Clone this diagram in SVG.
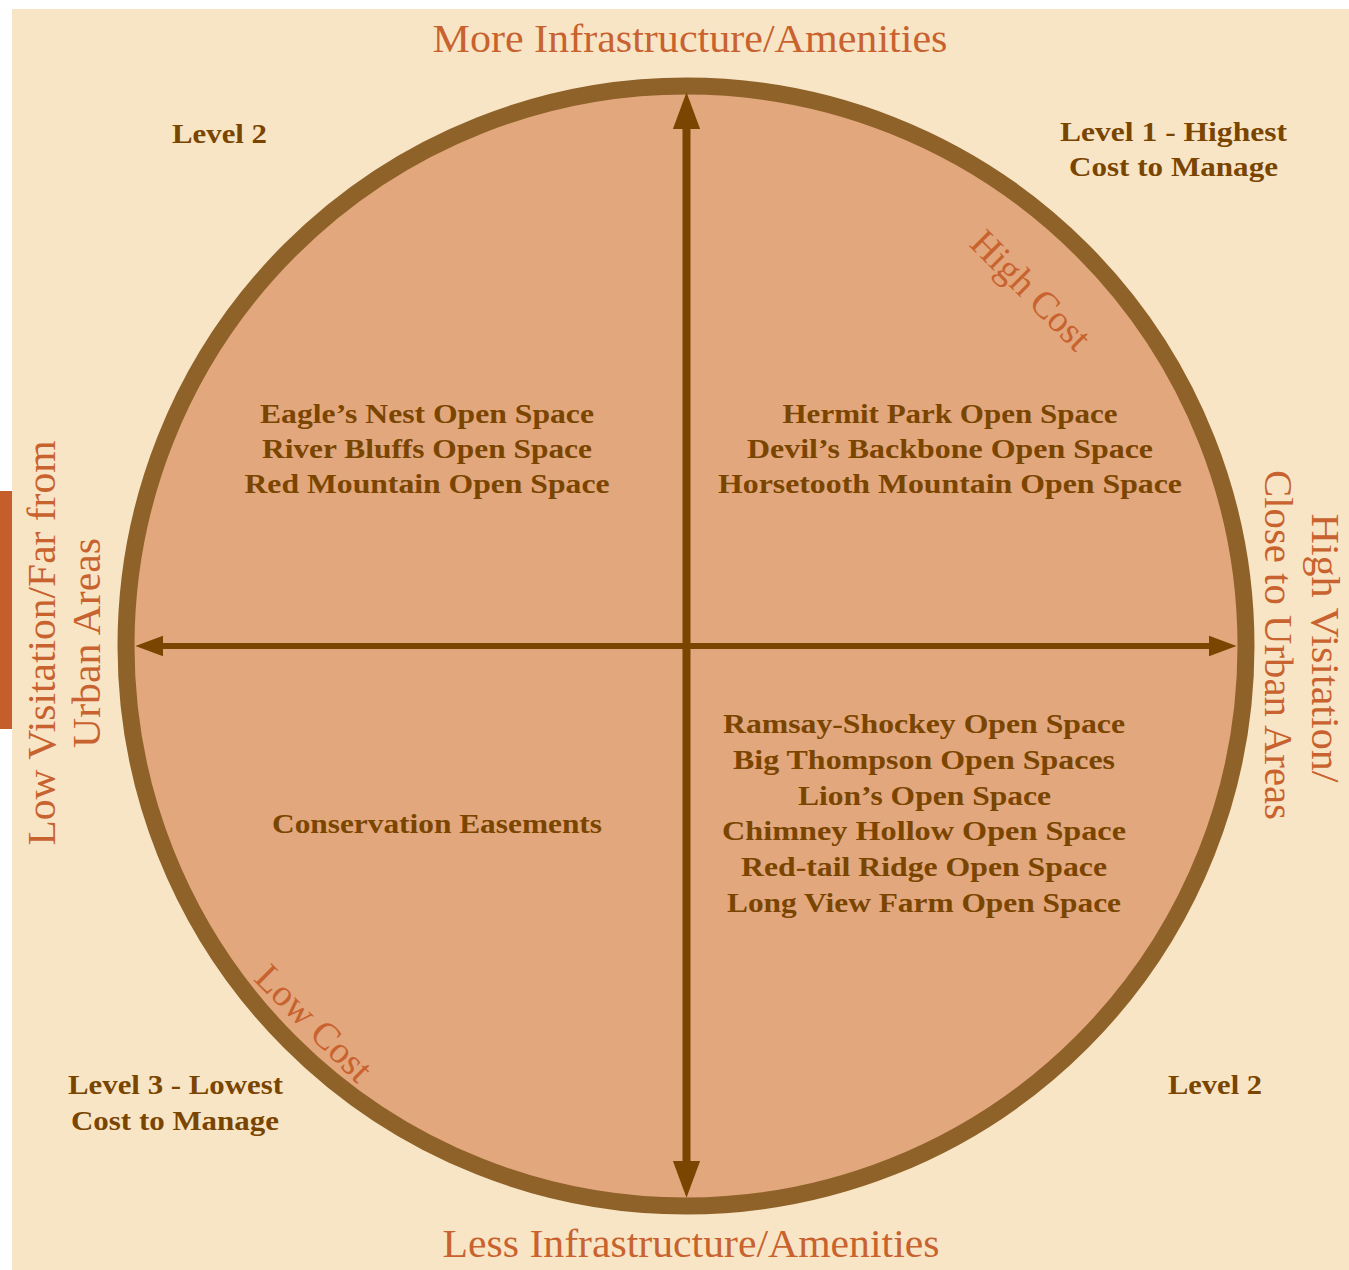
<svg xmlns="http://www.w3.org/2000/svg" width="1349" height="1270" viewBox="0 0 1349 1270">
<style>
.lab{font-family:"Liberation Serif","Times New Roman",serif;font-weight:bold;font-size:27px;fill:#7A4500;text-anchor:middle}
.ax{font-family:"Liberation Serif","Times New Roman",serif;font-size:39px;fill:#C8622E;text-anchor:middle}
.cost{font-family:"Liberation Serif","Times New Roman",serif;font-size:38px;fill:#C8622E;text-anchor:middle}
.arr{stroke:#7A4500;fill:none}
</style>
<defs>
<marker id="head" markerUnits="strokeWidth" markerWidth="4.6" markerHeight="3.4" refX="0" refY="1.7" orient="auto-start-reverse" overflow="visible">
<path d="M0,0 L4.6,1.7 L0,3.4 Z" fill="#7A4500"/>
</marker>
</defs>
<rect x="0" y="0" width="1349" height="1270" fill="#FFFFFF"/>
<rect x="12" y="9" width="1337" height="1261" fill="#F8E5C6"/>
<rect x="0" y="491" width="12" height="238" fill="#C55E2A"/>
<g id="circle">
<circle cx="686" cy="646" r="560" fill="#E2A77C" stroke="#8F6229" stroke-width="17"/>
</g>
<g id="connectors">
<line class="arr" x1="686.5" y1="1161" x2="686.5" y2="129" stroke-width="8" marker-start="url(#head)" marker-end="url(#head)"/>
<line class="arr" x1="163" y1="646" x2="1209" y2="646" stroke-width="6" marker-start="url(#head)" marker-end="url(#head)"/>
</g>
<g id="axis-labels">
<text class="ax" x="690" y="52" textLength="515" lengthAdjust="spacingAndGlyphs">More Infrastructure/Amenities</text>
<text class="ax" x="691" y="1257" textLength="497" lengthAdjust="spacingAndGlyphs">Less Infrastructure/Amenities</text>
<text class="ax" transform="translate(55,643) rotate(-90)" textLength="405" lengthAdjust="spacingAndGlyphs">Low Visitation/Far from</text>
<text class="ax" transform="translate(100,643) rotate(-90)" textLength="210" lengthAdjust="spacingAndGlyphs">Urban Areas</text>
<text class="ax" transform="translate(1312,648) rotate(90)" textLength="269" lengthAdjust="spacingAndGlyphs">High Visitation/</text>
<text class="ax" transform="translate(1265,645) rotate(90)" textLength="350" lengthAdjust="spacingAndGlyphs">Close to Urban Areas</text>
</g>
<g id="cost-labels">
<text class="cost" transform="translate(1022,299) rotate(45)" textLength="152" lengthAdjust="spacingAndGlyphs">High Cost</text>
<text class="cost" transform="translate(305,1032) rotate(45)" textLength="148" lengthAdjust="spacingAndGlyphs">Low Cost</text>
</g>
<g id="level-tl"><text class="lab" x="219.5" y="143" textLength="95" lengthAdjust="spacingAndGlyphs">Level 2</text></g>
<g id="level-tr">
<text class="lab" x="1173.5" y="141" textLength="227" lengthAdjust="spacingAndGlyphs">Level 1 - Highest</text>
<text class="lab" x="1173.5" y="176" textLength="209" lengthAdjust="spacingAndGlyphs">Cost to Manage</text>
</g>
<g id="level-bl">
<text class="lab" x="175.5" y="1094" textLength="215" lengthAdjust="spacingAndGlyphs">Level 3 - Lowest</text>
<text class="lab" x="175" y="1130" textLength="208" lengthAdjust="spacingAndGlyphs">Cost to Manage</text>
</g>
<g id="level-br"><text class="lab" x="1215" y="1094" textLength="94" lengthAdjust="spacingAndGlyphs">Level 2</text></g>
<g id="quadrant-tl">
<text class="lab" x="427" y="423" textLength="334" lengthAdjust="spacingAndGlyphs">Eagle’s Nest Open Space</text>
<text class="lab" x="427" y="458" textLength="330" lengthAdjust="spacingAndGlyphs">River Bluffs Open Space</text>
<text class="lab" x="427" y="493" textLength="365" lengthAdjust="spacingAndGlyphs">Red Mountain Open Space</text>
</g>
<g id="quadrant-tr">
<text class="lab" x="950" y="423" textLength="335" lengthAdjust="spacingAndGlyphs">Hermit Park Open Space</text>
<text class="lab" x="950" y="458" textLength="406" lengthAdjust="spacingAndGlyphs">Devil’s Backbone Open Space</text>
<text class="lab" x="950" y="493" textLength="464" lengthAdjust="spacingAndGlyphs">Horsetooth Mountain Open Space</text>
</g>
<g id="quadrant-bl">
<text class="lab" x="437" y="833" textLength="330" lengthAdjust="spacingAndGlyphs">Conservation Easements</text>
</g>
<g id="quadrant-br">
<text class="lab" x="924" y="733" textLength="402" lengthAdjust="spacingAndGlyphs">Ramsay-Shockey Open Space</text>
<text class="lab" x="924" y="769" textLength="382" lengthAdjust="spacingAndGlyphs">Big Thompson Open Spaces</text>
<text class="lab" x="924.5" y="805" textLength="253" lengthAdjust="spacingAndGlyphs">Lion’s Open Space</text>
<text class="lab" x="924" y="840" textLength="404" lengthAdjust="spacingAndGlyphs">Chimney Hollow Open Space</text>
<text class="lab" x="924" y="876" textLength="366" lengthAdjust="spacingAndGlyphs">Red-tail Ridge Open Space</text>
<text class="lab" x="924" y="912" textLength="394" lengthAdjust="spacingAndGlyphs">Long View Farm Open Space</text>
</g>
</svg>
